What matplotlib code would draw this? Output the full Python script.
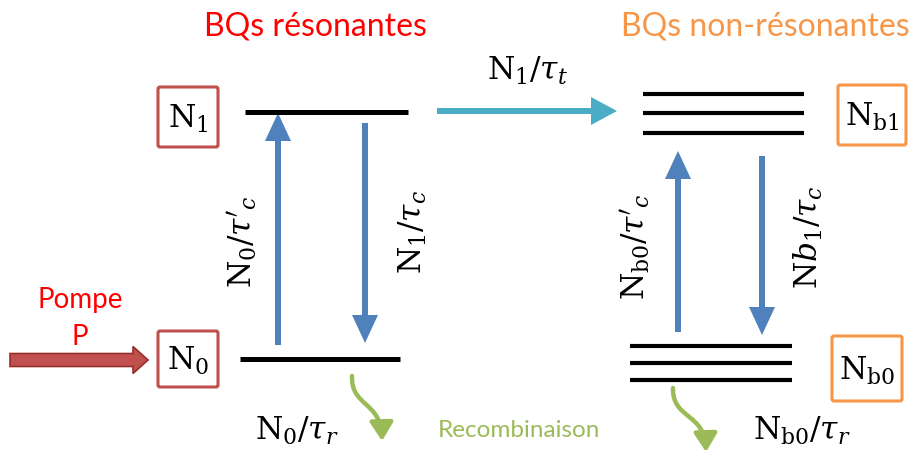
import matplotlib
matplotlib.use("Agg")
import matplotlib.pyplot as plt
from matplotlib.patches import FancyArrow, FancyArrowPatch, FancyBboxPatch
from matplotlib.path import Path

plt.rcParams['mathtext.fontset'] = 'dejavuserif'
plt.rcParams['font.family'] = ['Lato', 'DejaVu Sans']

RED = '#FF0000'
ORANGE = '#F79646'
BOX_RED = '#C0504D'
BLUE = '#4F81BD'
CYAN = '#4BACC6'
GREEN = '#9BBB59'

# energy levels: (x_start, x_end, y)
left_levels = [(245, 408, 113), (240, 400, 360)]
right_levels_top = [(643, 804, 95), (643, 804, 114), (643, 804, 134)]
right_levels_bot = [(630, 792, 347), (630, 792, 364), (630, 792, 381)]

# boxes: (x0, y0, x1, y1, label, colour)
boxes = [
    (158, 88, 218, 148, r'$\mathrm{N}_1$', BOX_RED),
    (158, 332, 218, 388, r'$\mathrm{N}_0$', BOX_RED),
    (838, 86, 906, 146, r'$\mathrm{N}_{\mathrm{b1}}$', ORANGE),
    (832, 337, 902, 402, r'$\mathrm{N}_{\mathrm{b0}}$', ORANGE),
]

# vertical transitions: (x, y_from, y_to)
transitions = [(278, 346, 114), (365, 124, 344), (678, 333, 152), (762, 157, 336)]

# rotated rate labels: (x, y, text)
rate_labels = [
    (242, 242, r"$\mathrm{N}_0/\tau^{\prime}{}_c$"),
    (413, 232, r'$\mathrm{N}_1/\tau_c$'),
    (635, 247, r"$\mathrm{N}_{\mathrm{b0}}/\tau^{\prime}{}_c$"),
    (808, 237, r'$\mathrm{N}b_1/\tau_c$'),
]

# recombination curls: start, control1, control2, tip
curls = [
    [(352, 377), (351, 408), (381, 402), (382, 442)],
    [(673, 389), (672, 420), (705, 414), (706, 453)],
]

fig = plt.figure(figsize=(9.12, 4.56), dpi=100)
ax = fig.add_axes([0, 0, 1, 1])
ax.set_xlim(0, 912)
ax.set_ylim(456, 0)
ax.axis('off')

for x0, x1, y in left_levels:
    ax.plot([x0, x1], [y, y], color='black', lw=3.6, solid_capstyle='butt')
for x0, x1, y in right_levels_top + right_levels_bot:
    ax.plot([x0, x1], [y, y], color='black', lw=3.0, solid_capstyle='butt')

for x0, y0, x1, y1, label, col in boxes:
    ax.add_patch(FancyBboxPatch((x0, y0), x1 - x0, y1 - y0,
                                boxstyle='round,pad=0,rounding_size=2',
                                fc='white', ec=col, lw=2.2))
    ax.text((x0 + x1) / 2, (y0 + y1) / 2 + 1, label, fontsize=22.5,
            ha='center', va='center')

for x, ya, yb in transitions:
    ax.add_patch(FancyArrow(x, ya, 0, yb - ya, width=6, head_width=26,
                            head_length=28, length_includes_head=True,
                            fc=BLUE, ec='none'))

for x, y, t in rate_labels:
    ax.text(x, y, t, fontsize=22.5, rotation=90, ha='center', va='center')

# transfer to non-resonant dots
ax.add_patch(FancyArrow(437, 112, 180, 0, width=6, head_width=28,
                        head_length=26, length_includes_head=True,
                        fc=CYAN, ec='none'))
ax.text(528, 71, r'$\mathrm{N}_1/\tau_t$', fontsize=22.5, ha='center', va='center')

# pump
ax.add_patch(FancyArrow(10, 361, 138, 0, width=13, head_width=27,
                        head_length=15, length_includes_head=True,
                        fc=BOX_RED, ec='#96302d', lw=1.2))
ax.text(80, 300, 'Pompe', color=RED, fontsize=20, ha='center', va='center')
ax.text(80, 337, 'P', color=RED, fontsize=20, ha='center', va='center')

for pts in curls:
    path = Path(pts, [Path.MOVETO, Path.CURVE4, Path.CURVE4, Path.CURVE4])
    ax.add_patch(FancyArrowPatch(path=path, arrowstyle='-|>,head_length=0.8,head_width=0.5',
                                 mutation_scale=14, color=GREEN, lw=3.2))

ax.text(297, 431, r'$\mathrm{N}_0/\tau_r$', fontsize=22.5, ha='center', va='center')
ax.text(802, 431, r'$\mathrm{N}_{\mathrm{b0}}/\tau_r$', fontsize=22.5, ha='center', va='center')
ax.text(519, 431, 'Recombinaison', color=GREEN, fontsize=17.5, ha='center', va='center')

ax.text(315, 26, 'BQs résonantes', color=RED, fontsize=23, ha='center', va='center')
ax.text(765, 26, 'BQs non-résonantes', color=ORANGE, fontsize=23, ha='center', va='center')

fig.savefig('out.png', dpi=100)
